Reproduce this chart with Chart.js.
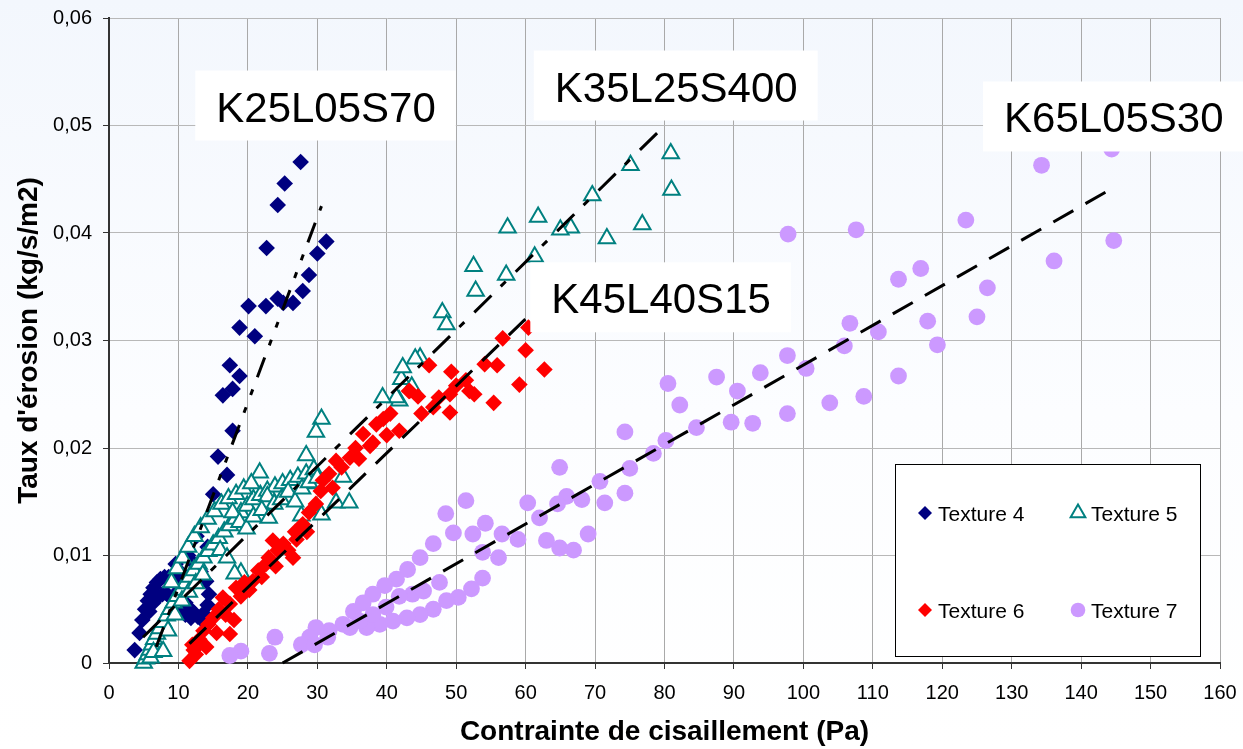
<!DOCTYPE html>
<html lang="fr">
<head>
<meta charset="utf-8">
<title>Taux d'érosion - textures</title>
<script src="https://cdn.jsdelivr.net/npm/chart.js@4.4.1/dist/chart.umd.min.js"></script>
<style>
  html, body { margin: 0; padding: 0; background: #fff; }
  #wrap { width: 1243px; height: 749px; }
</style>
</head>
<body>
<div id="wrap"><canvas id="erosionChart" width="1243" height="749"></canvas></div>
<script>
// 1. DATA (x = contrainte en Pa, y = taux d'erosion en kg/s/m2)
const yTickLabels = ['0', '0,01', '0,02', '0,03', '0,04', '0,05', '0,06'];
const xTickLabels = ['0','10','20','30','40','50','60','70','80','90','100','110','120','130','140','150','160'];

const seriesNames = ['Texture 4', 'Texture 5', 'Texture 6', 'Texture 7'];
const boxNames = ['K25L05S70', 'K35L25S400', 'K45L40S15', 'K65L05S30'];

const texture4 = [
  [27.6,0.0466],[25.3,0.0446],[24.3,0.0426],[22.7,0.0386],[31.3,0.0392],[30.0,0.0381],
  [28.8,0.0361],[27.9,0.0346],[26.5,0.0335],[25.1,0.0335],[24.3,0.0339],[22.6,0.0332],
  [20.1,0.0332],[18.8,0.0312],[21.0,0.0304],[17.4,0.0277],[18.8,0.0267],[17.8,0.0255],
  [16.4,0.0249],[17.8,0.0216],[15.7,0.0192],[17.0,0.0175],[15.0,0.0157],
  [3.7,0.0012],[4.4,0.0028],[4.8,0.0040],[5.2,0.0050],[5.6,0.0058],[6.0,0.0064],
  [6.4,0.0070],[6.9,0.0075],[7.4,0.0078],[8.0,0.0080],[8.6,0.0080],[9.2,0.0078],
  [9.7,0.0074],[10.1,0.0068],[10.5,0.0062],[11.0,0.0056],[11.6,0.0051],[12.2,0.0047],
  [12.8,0.0043],[13.4,0.0040],[14.0,0.0038],[5.8,0.0048],[6.4,0.0056],[7.0,0.0061],
  [7.7,0.0064],[8.4,0.0064],[9.0,0.0060],[9.6,0.0055],[10.3,0.0049],[11.0,0.0045],
  [11.8,0.0042],[13.6,0.0046],[14.2,0.0054],[14.4,0.0064],[14.0,0.0076],[13.2,0.0085],
  [12.3,0.0092],[11.4,0.0100],[12.6,0.0118],[14.2,0.0108],[9.6,0.0092],[10.4,0.0084]
];

const texture5 = [
  [80.9,0.0474],[81.0,0.0440],[75.1,0.0463],[69.6,0.0435],[76.8,0.0408],[71.7,0.0395],
  [66.5,0.0405],[65.0,0.0403],[61.8,0.0415],[57.4,0.0405],[61.3,0.0378],[57.2,0.0361],
  [52.5,0.0369],[52.8,0.0346],[48.0,0.0326],[48.6,0.0315],[44.8,0.0284],[44.1,0.0283],
  [42.1,0.0264],[41.8,0.0244],[43.6,0.0257],[42.3,0.0275],[41.4,0.0247],[39.4,0.0247],
  [30.6,0.0227],[29.8,0.0215],[28.4,0.0193],[21.7,0.0177],[27.7,0.0137],[32.7,0.0149],
  [33.7,0.0173],[29.8,0.0167],[34.6,0.0149],[30.6,0.0138],[19.0,0.0084],[18.1,0.0083],
  [5.0,0.0000],[5.3,0.0004],[5.6,0.0008],[5.9,0.0012],[6.2,0.0017],[6.5,0.0022],
  [6.9,0.0027],[7.3,0.0032],[7.8,0.0038],[8.3,0.0044],[8.8,0.0050],[9.3,0.0056],
  [9.8,0.0062],[10.4,0.0068],[11.0,0.0074],[11.6,0.0080],[12.2,0.0086],[12.9,0.0092],
  [13.6,0.0098],[14.3,0.0104],[15.0,0.0110],[15.8,0.0116],[16.6,0.0122],[17.4,0.0128],
  [18.2,0.0134],[19.0,0.0140],[19.9,0.0146],[20.8,0.0152],[21.8,0.0156],[22.8,0.0160],
  [23.9,0.0164],[25.0,0.0167],[26.1,0.0170],[27.2,0.0173],[28.4,0.0176],[29.5,0.0180],
  [6.0,0.0005],[6.4,0.0010],[7.8,0.0011],[8.5,0.0030],[9.5,0.0045],[10.5,0.0058],
  [11.5,0.0066],[12.5,0.0074],[13.5,0.0082],[9.0,0.0075],[9.8,0.0088],[10.6,0.0098],
  [11.4,0.0108],[12.3,0.0118],[13.2,0.0126],[14.2,0.0134],[15.2,0.0141],[16.2,0.0148],
  [17.2,0.0153],[18.3,0.0157],[19.4,0.0162],[20.5,0.0167],[22.8,0.0155],[23.8,0.0148],
  [24.8,0.0152],[25.8,0.0159],[26.8,0.0150],[27.8,0.0162],[28.8,0.0168],[30.0,0.0172],
  [17.8,0.0140],[18.8,0.0131],[19.8,0.0125],[20.8,0.0136],[22.0,0.0142],[23.0,0.0135],
  [16.0,0.0105],[17.0,0.0098]
];

const texture6 = [
  [60.4,0.0312],[56.7,0.0302],[60.0,0.0291],[62.7,0.0273],[59.1,0.0259],[54.1,0.0278],
  [55.9,0.0277],[55.4,0.0242],[49.3,0.0271],[46.1,0.0277],[43.2,0.0253],[51.4,0.0263],
  [51.9,0.0253],[52.6,0.0250],[49.1,0.0250],[49.1,0.0233],[46.7,0.0238],[43.3,0.0253],
  [39.5,0.0227],[41.8,0.0216],[36.6,0.0213],[37.6,0.0202],[34.7,0.0191],[32.7,0.0188],
  [31.7,0.0176],[32.2,0.0163],[29.8,0.0148],[27.9,0.0129],[25.1,0.0111],[23.6,0.0114],
  [26.5,0.0098],[22.6,0.0092],[20.7,0.0076],[18.3,0.0070],[16.4,0.0061],[17.4,0.0055],
  [15.0,0.0042],[13.6,0.0030],[12.0,0.0017],[11.6,0.0002],[17.4,0.0027],
  [38.5,0.0222],[40.5,0.0232],[44.5,0.0248],[35.5,0.0200],[33.5,0.0182],[30.5,0.0160],
  [28.8,0.0140],[26.8,0.0122],[24.3,0.0105],[21.5,0.0086],[19.5,0.0075],[12.5,0.0008],
  [13.0,0.0022],[14.3,0.0036],[15.8,0.0050],[16.8,0.0045],[19.0,0.0062],[20.2,0.0068],
  [23.0,0.0098],[25.8,0.0105],[24.0,0.0090],[45.0,0.0232],[47.5,0.0247],[50.0,0.0258],
  [12.2,0.0012],[14.0,0.0015],[18.0,0.0040],[15.5,0.0028],[22.0,0.0080],[27.0,0.0115],
  [28.5,0.0122],[30.8,0.0170],[36.0,0.0190],[38.0,0.0205],[40.0,0.0212]
];

const texture7 = [
  [134.3,0.0463],[144.7,0.0393],[136.1,0.0374],[123.4,0.0412],[126.5,0.0349],[125.0,0.0322],
  [116.9,0.0367],[113.7,0.0357],[117.9,0.0318],[119.3,0.0296],[110.8,0.0308],[113.7,0.0267],
  [108.7,0.0248],[107.6,0.0403],[106.7,0.0316],[105.9,0.0295],[144.4,0.0478],[97.8,0.0399],
  [103.8,0.0242],[100.4,0.0274],[97.7,0.0286],[97.7,0.0232],[93.8,0.0270],[92.7,0.0223],
  [90.5,0.0253],[89.6,0.0224],[87.5,0.0266],[84.6,0.0219],[82.2,0.0240],[80.5,0.0260],
  [80.2,0.0207],[78.4,0.0195],[74.3,0.0215],[75.0,0.0181],[74.3,0.0158],[71.4,0.0149],
  [70.7,0.0169],[64.9,0.0182],[51.4,0.0151],[48.5,0.0139],[49.6,0.0121],[52.4,0.0120],
  [54.2,0.0130],[56.6,0.0120],[53.8,0.0103],[56.1,0.0098],[60.3,0.0149],[62.0,0.0135],
  [58.9,0.0115],[63.0,0.0114],[64.9,0.0107],[66.9,0.0105],[65.9,0.0155],[68.1,0.0152],
  [69.0,0.0120],[64.6,0.0148],[53.8,0.0079],[52.2,0.0069],[50.3,0.0061],
  [46.7,0.0111],[44.8,0.0098],[43.0,0.0087],[41.4,0.0078],[39.7,0.0072],[38.0,0.0064],
  [36.6,0.0056],[35.2,0.0048],[48.6,0.0058],[46.7,0.0050],[44.8,0.0045],[42.9,0.0042],
  [40.9,0.0039],[39.0,0.0036],[37.1,0.0033],[34.7,0.0033],[43.7,0.0064],[45.3,0.0067],
  [47.6,0.0075],[41.8,0.0062],[39.9,0.0052],[38.0,0.0045],[36.1,0.0039],[33.7,0.0036],
  [31.7,0.0030],[29.8,0.0033],[28.9,0.0024],[27.7,0.0017],[29.6,0.0017],[31.5,0.0024],
  [23.9,0.0024],[23.1,0.0009],[19.0,0.0011],[17.4,0.0007]
];

// trend lines (start, end)
const trend4 = [[6.8,0.0015],[30.6,0.0425]];
const trend5 = [[4.9,0.0024],[80.2,0.0501]];
const trend6 = [[11.6,0.0018],[60.3,0.0322]];
const trend7 = [[25.0,0.0000],[144.6,0.0442]];

// anchor of each name box (left of text, baseline) in axis units
const boxX = [15.45, 64.2, 63.7, 128.9];
const boxY = [0.05037, 0.05223, 0.03253, 0.04935];

// 2. HELPERS
const toPoints = arr => arr.map(p => ({ x: p[0], y: p[1] }));
const FONT = '"Liberation Sans", Arial, Helvetica, sans-serif';
const markers = [
  { style: 'diamond', fill: '#000080', stroke: '#000080' },
  { style: 'triangle', fill: '#ffffff', stroke: '#008080' },
  { style: 'diamond', fill: '#ff0000', stroke: '#ff0000' },
  { style: 'circle', fill: '#cc99ff', stroke: '#cc99ff' }
];

function drawMarker(ctx, m, cx, cy, r) {
  ctx.beginPath();
  if (m.style === 'diamond') {
    ctx.moveTo(cx - r, cy); ctx.lineTo(cx, cy - r);
    ctx.lineTo(cx + r, cy); ctx.lineTo(cx, cy + r);
    ctx.closePath();
  } else if (m.style === 'triangle') {
    ctx.moveTo(cx, cy - r);
    ctx.lineTo(cx + r * 0.866, cy + r * 0.5);
    ctx.lineTo(cx - r * 0.866, cy + r * 0.5);
    ctx.closePath();
  } else {
    ctx.arc(cx, cy, r, 0, Math.PI * 2);
  }
  ctx.fillStyle = m.fill;
  ctx.fill();
  if (m.style === 'triangle') {
    ctx.strokeStyle = m.stroke;
    ctx.lineWidth = 2;
    ctx.stroke();
  }
}

// soft blue page tint
const backgroundPlugin = {
  id: 'background',
  beforeDraw(chart) {
    const ctx = chart.ctx;
    const g = ctx.createLinearGradient(0, 0, 0, chart.height);
    g.addColorStop(0, '#f3f7fd');
    g.addColorStop(0.55, '#fcfdff');
    g.addColorStop(1, '#ffffff');
    ctx.save();
    ctx.fillStyle = g;
    ctx.fillRect(0, 0, chart.width, chart.height);
    ctx.restore();
  }
};

// name boxes + legend drawn over the points
const overlayPlugin = {
  id: 'overlay',
  afterDatasetsDraw(chart) {
    const { ctx, chartArea } = chart;
    const xs = chart.scales.x, ys = chart.scales.y;
    ctx.save();

    ctx.font = '42px ' + FONT;
    ctx.textBaseline = 'alphabetic';
    ctx.textAlign = 'left';
    boxNames.forEach((name, i) => {
      const px = xs.getPixelForValue(boxX[i]);
      const py = ys.getPixelForValue(boxY[i]);
      const w = ctx.measureText(name).width;
      ctx.fillStyle = '#ffffff';
      ctx.fillRect(px - 21, py - 51, w + 41, 70);
      ctx.fillStyle = '#000000';
      ctx.fillText(name, px, py);
    });

    // legend box
    const lw = 305, lh = 192;
    const lx = Math.round(chartArea.right - 20 - lw);
    const ly = Math.round(chartArea.bottom - 7 - lh);
    ctx.fillStyle = '#ffffff';
    ctx.fillRect(lx, ly, lw, lh);
    ctx.strokeStyle = '#000000';
    ctx.lineWidth = 1;
    ctx.strokeRect(lx + 0.5, ly + 0.5, lw, lh);

    const slots = [[30, 49], [183, 49], [30, 146], [183, 146]];
    const sizes = [7, 8.5, 7, 7.3];
    ctx.font = '21px ' + FONT;
    seriesNames.forEach((name, i) => {
      const cx = lx + slots[i][0], cy = ly + slots[i][1];
      drawMarker(ctx, markers[i], cx, cy, sizes[i]);
      ctx.fillStyle = '#000000';
      ctx.fillText(name, cx + 13, cy + 7.5);
    });
    ctx.restore();
  }
};

// 3. CHART
Chart.defaults.font.family = FONT;
Chart.defaults.color = '#000000';

const scatterSet = (label, data, m, style, radius, order) => ({
  label: label,
  data: toPoints(data),
  pointStyle: style,
  pointRadius: radius,
  pointHoverRadius: radius,
  backgroundColor: m.fill,
  borderColor: m.stroke,
  pointBorderWidth: style === 'triangle' ? 2 : 0,
  showLine: false,
  clip: false,
  order: order
});

const trendSet = (data, dash) => ({
  label: 'trend',
  data: toPoints(data),
  showLine: true,
  pointRadius: 0,
  borderColor: '#000000',
  borderWidth: 3,
  borderDash: dash,
  fill: false,
  clip: false,
  order: 0
});

new Chart(document.getElementById('erosionChart'), {
  type: 'scatter',
  data: {
    datasets: [
      scatterSet(seriesNames[0], texture4, markers[0], 'rectRot', 8.3, 4),
      scatterSet(seriesNames[1], texture5, markers[1], 'triangle', 9.5, 3),
      scatterSet(seriesNames[2], texture6, markers[2], 'rectRot', 8.3, 2),
      scatterSet(seriesNames[3], texture7, markers[3], 'circle', 8.4, 1),
      trendSet(trend4, [21, 13, 6, 13, 6, 13]),
      trendSet(trend5, [24, 13, 7, 14]),
      trendSet(trend6, [23, 14]),
      trendSet(trend7, [23, 14])
    ]
  },
  options: {
    responsive: false,
    animation: false,
    devicePixelRatio: 1,
    layout: { padding: { left: 0, right: 23, top: 18, bottom: 0 } },
    plugins: {
      legend: { display: false },
      tooltip: { enabled: false }
    },
    scales: {
      x: {
        type: 'linear',
        min: 0,
        max: 160,
        afterFit: s => { s.height = 86; s.paddingLeft = 0; s.paddingRight = 0; },
        ticks: {
          stepSize: 10,
          autoSkip: false,
          maxRotation: 0,
          padding: 12,
          font: { size: 20 },
          color: '#000',
          callback: (v, i) => xTickLabels[i]
        },
        grid: { color: '#a9a9a9', lineWidth: 1, drawTicks: true, tickLength: 6, tickColor: '#333' },
        border: { color: '#333', width: 2 },
        title: {
          display: true,
          text: 'Contrainte de cisaillement (Pa)',
          font: { size: 28, weight: 'bold' },
          color: '#000',
          padding: { top: 0, bottom: 0 }
        }
      },
      y: {
        type: 'linear',
        min: 0,
        max: 0.06,
        afterFit: s => { s.width = 109; s.paddingTop = 0; s.paddingBottom = 0; },
        ticks: {
          stepSize: 0.01,
          padding: 11,
          font: { size: 20 },
          color: '#000',
          callback: (v, i) => yTickLabels[i]
        },
        grid: { color: '#b8b8b8', lineWidth: 1, drawTicks: true, tickLength: 6, tickColor: '#333' },
        border: { color: '#333', width: 2 },
        title: {
          display: true,
          text: "Taux d'érosion (kg/s/m2)",
          font: { size: 28, weight: 'bold' },
          color: '#000',
          padding: { top: 12, bottom: 0 }
        }
      }
    }
  },
  plugins: [backgroundPlugin, overlayPlugin]
});
</script>
</body>
</html>
